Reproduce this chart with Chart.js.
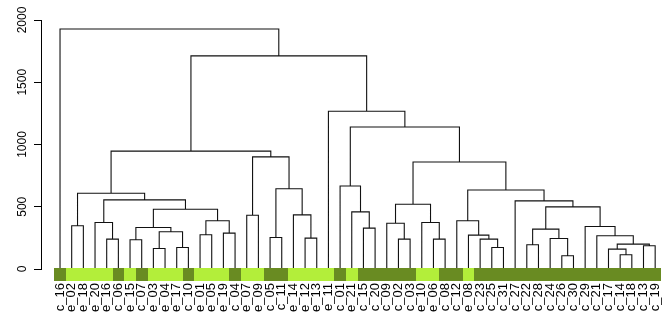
<!DOCTYPE html>
<html>
<head>
<meta charset="utf-8">
<script src="https://cdn.jsdelivr.net/npm/chart.js@4.4.1/dist/chart.umd.min.js"></script>
<style>
html,body{margin:0;padding:0;background:#fff;}
canvas{display:block;}
</style>
</head>
<body>
<canvas id="c" width="666" height="320"></canvas>
<script>
// Leaf order (left to right) of the dendrogram
const leafLabels = [
  "c_16","e_02","e_18","e_20","e_16","c_06","e_15","c_07","e_03","e_04",
  "e_17","c_10","e_01","e_05","e_19","c_04","e_07","e_09","c_05","c_11",
  "e_14","e_12","e_13","e_11","c_01","e_21","c_15","c_20","c_09","c_02",
  "c_03","e_10","e_06","c_08","c_12","e_08","c_23","c_25","c_31","c_27",
  "c_22","c_28","c_24","c_26","c_30","c_29","c_21","c_17","c_14","c_18",
  "c_13","c_19"
];

// Merges: a string is a leaf label, a number is the (1-based) index of an earlier merge
const mergeLeft = [
  "e_16","e_20","e_02","e_15","e_03","e_17",5,4,"e_01","e_19",
  9,8,2,3,"e_07","c_05","e_12","e_14",16,15,
  14,"c_15","e_21","c_01","c_02","c_09","e_06","e_10",26,"c_25",
  "c_23","e_08","c_12","c_22","c_26","c_24",34,"c_14","c_17","c_13",
  39,"c_21","c_29",37,"c_27",33,29,24,"e_11",21,
  "c_16"
];
const mergeRight = [
  "c_06",1,"e_18","c_07","e_04","c_10",6,7,"e_05","c_04",
  10,11,12,13,"e_09","c_11","e_13",17,18,19,
  20,"c_20",22,23,"c_03",25,"c_08",27,28,"c_31",
  30,31,32,"c_28","c_30",35,36,"c_18",38,"c_19",
  40,41,42,43,44,45,46,47,48,49,
  50
];
const mergeHeight = [
  240,373,347,235,165,173,299,333,275,288,
  387,480,555,608,432,253,248,435,645,901,
  947,328,459,667,240,368,240,373,520,173,
  240,272,387,195,107,245,320,115,160,187,
  200,267,341,499,547,635,859,1141,1267,1712,
  1928
];

const yTicks = [0, 500, 1000, 1500, 2000];
const groupColors = { c: "#698B22", e: "#B3EE3A" };

// Build dendrogram segments through the data coordinates
const nodeX = [], nodeH = [];
function posOf(ref) {
  if (typeof ref === "string") return { x: leafLabels.indexOf(ref) + 1, h: 0 };
  return { x: nodeX[ref - 1], h: nodeH[ref - 1] };
}
const segs = [];
for (let i = 0; i < mergeHeight.length; i++) {
  const a = posOf(mergeLeft[i]), b = posOf(mergeRight[i]), h = mergeHeight[i];
  nodeX.push((a.x + b.x) / 2);
  nodeH.push(h);
  segs.push({ x: a.x, y: a.h }, { x: a.x, y: h }, { x: b.x, y: h }, { x: b.x, y: b.h }, { x: b.x, y: null });
}

const colorBar = {
  id: "colorBar",
  afterDatasetsDraw(chart) {
    const { ctx, scales: { x, y } } = chart;
    const y0 = Math.round(y.getPixelForValue(0));
    ctx.save();
    leafLabels.forEach((lab, i) => {
      const xa = Math.round(x.getPixelForValue(i + 0.5));
      const xb = Math.round(x.getPixelForValue(i + 1.5));
      ctx.fillStyle = groupColors[lab[0]];
      ctx.fillRect(xa, y0 - 1, xb - xa, 13);
    });
    ctx.restore();
  }
};

const yFont = { family: "'Liberation Sans', Arial, sans-serif", size: 12 };
const xFont = { family: "'Liberation Sans', Arial, sans-serif", size: 13 };

new Chart(document.getElementById("c"), {
  type: "scatter",
  data: {
    datasets: [{
      data: segs,
      showLine: true,
      spanGaps: false,
      borderColor: "#111",
      borderWidth: 1.1,
      pointRadius: 0,
      tension: 0
    }]
  },
  options: {
    responsive: false,
    animation: false,
    devicePixelRatio: 1,
    layout: { padding: { top: 20, right: 5, left: 0, bottom: 0 } },
    plugins: { legend: { display: false }, tooltip: { enabled: false } },
    scales: {
      x: {
        type: "linear",
        min: -0.63,
        max: 52.5,
        grid: { display: false, drawTicks: false },
        border: { display: false },
        afterBuildTicks: s => { s.ticks = leafLabels.map((_, i) => ({ value: i + 1 })); },
        afterFit: s => { s.height = 51; s.paddingLeft = 0; s.paddingRight = 0; },
        ticks: {
          autoSkip: false, minRotation: 90, maxRotation: 90, padding: 14,
          color: "#000", font: xFont,
          callback: v => leafLabels[v - 1]
        }
      },
      y: {
        type: "linear",
        min: 0,
        max: 2000,
        afterBuildTicks: s => { s.ticks = yTicks.map(v => ({ value: v })); },
        afterFit: s => { s.width = 41; s.paddingTop = 0; s.paddingBottom = 0; },
        grid: { drawOnChartArea: false, tickLength: 7, color: "#000" },
        border: { display: true, color: "#000" },
        ticks: {
          minRotation: 90, maxRotation: 90, crossAlign: "center", padding: -2,
          color: "#000", font: yFont,
          callback: v => String(v)
        }
      }
    }
  },
  plugins: [colorBar]
});
</script>
</body>
</html>
